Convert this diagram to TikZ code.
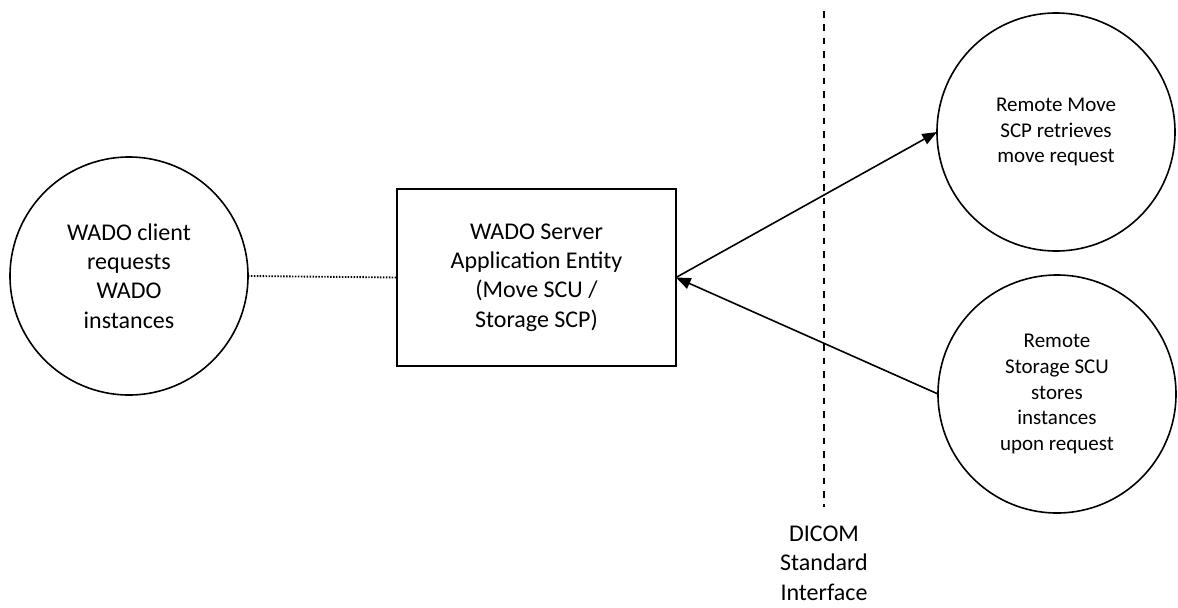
\documentclass[tikz,border=0pt]{standalone}
\usepackage{fontspec}
\setmainfont{Carlito}
\usetikzlibrary{arrows.meta}
\tikzset{
  every node/.style={inner sep=0pt, outer sep=0pt},
  shapeline/.style={draw=black, line width=1.2pt},
  bigtext/.style={font=\fontsize{18}{22}\selectfont, align=center},
  smalltext/.style={font=\fontsize{15.75}{19.3}\selectfont, align=center},
  bigcirc/.style={shapeline, circle, minimum size=178.5pt, bigtext},
  smallcirc/.style={shapeline, circle, minimum size=178.5pt, smalltext},
  serverbox/.style={shapeline, rectangle, minimum width=209.25pt, minimum height=132.75pt, bigtext},
  link/.style={line width=1.2pt, -{Triangle[length=11pt, width=8.5pt]}},
  dottedlink/.style={line width=1.4pt, dash pattern=on 1.1pt off 1.1pt},
  boundary/.style={line width=1.3pt, dash pattern=on 5pt off 5pt}
}
\begin{document}
\begin{tikzpicture}[x=0.75pt, y=-0.75pt]
\useasboundingbox (0,0) rectangle (1178,607);
\node[bigcirc] (client) at (129,276) {WADO client\\requests\\WADO\\instances};
\node[serverbox] (server) at (536.5,277.5) {WADO Server\\Application Entity\\(Move SCU /\\Storage SCP)};
\node[smallcirc] (movescp) at (1056,132) {Remote Move\\SCP retrieves\\move request};
\node[smallcirc] (storescu) at (1057,394) {Remote\\Storage SCU\\stores\\instances\\upon request};
\coordinate (dtop) at (824,11);
\coordinate (dbot) at (824,507);
\node[bigtext] (dicom) at (824,563) {DICOM\\Standard\\Interface};
\draw[dottedlink] (client.east) -- (server.west);
\draw[boundary] (dtop) -- (dbot);
\draw[link] (server.east) -- (movescp.west);
\draw[link] (storescu.west) -- (server.east);
\end{tikzpicture}
\end{document}
